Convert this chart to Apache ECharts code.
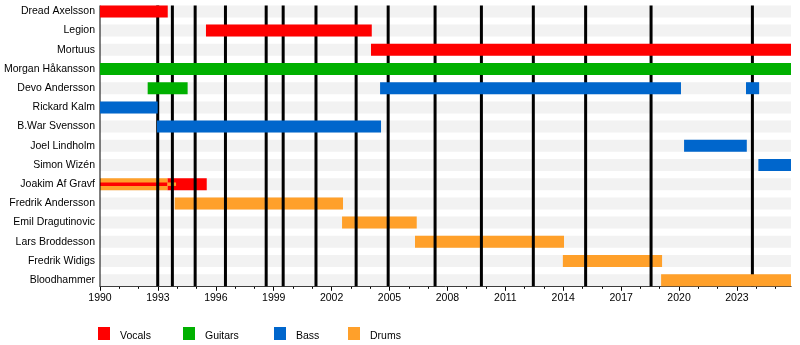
<!DOCTYPE html>
<html>
<head>
<meta charset="utf-8">
<script src="https://cdn.jsdelivr.net/npm/echarts@6/dist/echarts.min.js"></script>
<style>html,body{margin:0;padding:0;background:#fff}#c{width:800px;height:345px}</style>
</head>
<body>
<div id="c"></div>
<script>
const members = ["Dread Axelsson","Legion","Mortuus","Morgan Håkansson","Devo Andersson","Rickard Kalm","B.War Svensson","Joel Lindholm","Simon Wizén","Joakim Af Gravf","Fredrik Andersson","Emil Dragutinovic","Lars Broddesson","Fredrik Widigs","Bloodhammer"];
const roles = ["Vocals","Guitars","Bass","Drums"];
const tickYears = [1990,1993,1996,1999,2002,2005,2008,2011,2014,2017,2020,2023];
const minorYears = [1990,1991,1992,1993,1994,1995,1996,1997,1998,1999,2000,2001,2002,2003,2004,2005,2006,2007,2008,2009,2010,2011,2012,2013,2014,2015,2016,2017,2018,2019,2020,2021,2022,2023,2024,2025];
const startYear = 1990;
const endYear = 2025.8;
const albumDates = [1992.99,1993.75,1994.93,1996.50,1998.61,1999.49,2001.19,2003.27,2004.93,2007.36,2009.76,2012.45,2015.16,2018.55,2023.80];

const vocals = [["Dread Axelsson",1990,1993.51],["Legion",1995.49,2004.08],["Mortuus",2004.04,2025.8],["Joakim Af Gravf",1993.49,1995.53]];
const vocalsThin = [["Joakim Af Gravf",1990,1993.49]];
const guitars = [["Morgan Håkansson",1990,2025.8],["Devo Andersson",1992.47,1994.54]];
const bass = [["Devo Andersson",2004.51,2020.10],["Devo Andersson",2023.47,2024.15],["Rickard Kalm",1990,1992.99],["B.War Svensson",1992.95,2004.56],["Joel Lindholm",2020.26,2023.51],["Simon Wizén",2024.11,2025.8]];
const drums = [["Joakim Af Gravf",1990,1993.49],["Fredrik Andersson",1993.87,2002.59],["Emil Dragutinovic",2002.54,2006.41],["Lars Broddesson",2006.32,2014.04],["Fredrik Widigs",2013.98,2019.12],["Bloodhammer",2019.07,2025.8]];
const drumsThin = [["Joakim Af Gravf",1993.49,1993.94]];
const underLines = ["Joakim Af Gravf","Fredrik Andersson","Emil Dragutinovic","Lars Broddesson","Fredrik Widigs"];

const colors = {Vocals:"#ff0000",Guitars:"#00b000",Bass:"#0066cc",Drums:"#ffa02a"};
const BAR_H = 12, THIN_H = 3.5;

function barRender(h, thin){
  return function(params, api){
    const idx = api.value(0);
    const s = api.coord([api.value(1), idx]);
    const e = api.coord([api.value(2), idx]);
    const under = underLines.indexOf(members[idx]) >= 0;
    return {type:'rect', shape:{x:s[0], y:s[1]-h/2, width:e[0]-s[0], height:h},
      style:{fill:api.visual('color')}, z2: (under ? 1 : 3) + (thin ? 0.5 : 0)};
  };
}
function barSeries(name, data, thin){
  return {type:'custom', name:name, data:data, encode:{x:[1,2], y:0},
    itemStyle:{color:colors[name]}, renderItem: barRender(thin ? THIN_H : BAR_H, thin), z:2};
}

const chart = echarts.init(document.getElementById('c'), null, {renderer:'canvas'});
const FONT = 'Liberation Sans, Arial, sans-serif';
const axisTextStyle = {fontFamily:FONT, fontSize:10.5, color:'#000'};
chart.setOption({
  animation:false,
  textStyle:{fontFamily:FONT},
  grid:{left:100, right:9, top:1.8, bottom:55.2},
  xAxis:[
    {type:'value', min:startYear, max:endYear, position:'bottom', offset:-4,
     axisLine:{show:true, lineStyle:{color:'#000', width:1}},
     axisTick:{show:true, customValues:tickYears, length:5, lineStyle:{color:'#000'}},
     axisLabel:Object.assign({customValues:tickYears, margin:7, formatter:function(v){return String(v);}}, axisTextStyle),
     splitLine:{show:false}},
    {type:'value', min:startYear, max:endYear, position:'bottom', offset:-4,
     axisLine:{show:false},
     axisTick:{show:true, customValues:minorYears, length:3, lineStyle:{color:'#000'}},
     axisLabel:{show:false}, splitLine:{show:false}}
  ],
  yAxis:{type:'category', data:members, inverse:true,
    axisLine:{show:false}, axisTick:{show:false},
    axisLabel:Object.assign({margin:5}, axisTextStyle), splitLine:{show:false}},
  legend: roles.map((r,i)=>({data:[r], left:[98,183,274,348][i], top:327, padding:0,
    icon:'rect', itemWidth:12, itemHeight:13, selectedMode:false,
    formatter:'{t|{name}}',
    textStyle:{fontFamily:FONT, fontSize:10.5, color:'#000',
      rich:{t:{fontFamily:FONT, fontSize:10.5, color:'#000', padding:[5,0,0,5]}}}})),
  series:[
    {type:'custom', name:'stripes', data:members.map(m=>[m]), encode:{y:0}, silent:true, z:2,
     renderItem:function(params, api){
       const cs = params.coordSys;
       const p = api.coord([startYear, api.value(0)]);
       return {type:'rect', shape:{x:cs.x, y:p[1]-BAR_H/2, width:cs.width, height:BAR_H},
         style:{fill:'#f2f2f2'}, z2:0};
     }},
    {type:'custom', name:'frame', data:[[startYear,0]], encode:{x:0,y:1}, silent:true, z:2,
     renderItem:function(params, api){
       const t = api.coord([api.value(0), 0]);
       const b = api.coord([api.value(0), members.length-1]);
       return {type:'rect', shape:{x:t[0]-0.5, y:t[1]-BAR_H/2, width:1, height:b[1]-t[1]+BAR_H},
         style:{fill:'#000'}, z2:2};
     }},
    {type:'custom', name:'albums', data:albumDates.map(d=>[d,0]), encode:{x:0,y:1}, silent:true, z:2,
     renderItem:function(params, api){
       const t = api.coord([api.value(0), 0]);
       const b = api.coord([api.value(0), members.length-1]);
       return {type:'rect', shape:{x:t[0]-1.5, y:t[1]-BAR_H/2, width:3, height:b[1]-t[1]+BAR_H},
         style:{fill:'#000'}, z2:2};
     }},
    barSeries('Vocals', vocals, false),
    barSeries('Guitars', guitars, false),
    barSeries('Bass', bass, false),
    barSeries('Drums', drums, false),
    barSeries('Vocals', vocalsThin, true),
    barSeries('Drums', drumsThin, true)
  ]
});
</script>
</body>
</html>
